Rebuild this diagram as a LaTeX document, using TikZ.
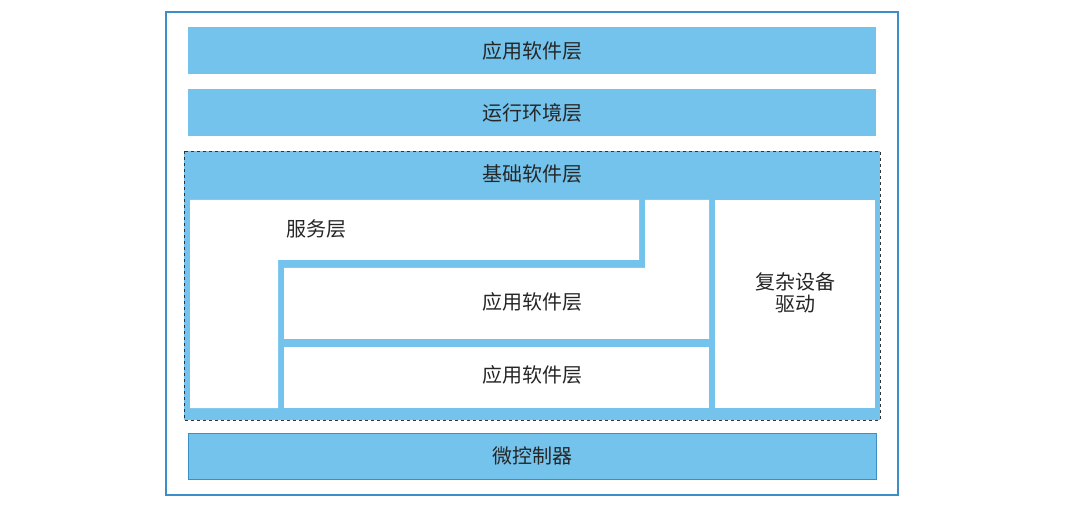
\documentclass[tikz,border=0pt]{standalone}
\usepackage{fontspec}
\newfontfamily\cjk{Noto Sans CJK SC}
\definecolor{lb}{HTML}{74C3EC}
\definecolor{fr}{HTML}{3C8FC6}
\begin{document}
\begin{tikzpicture}[x=1pt,y=-1pt,
  bar/.style={fill=lb,draw=none},
  wh/.style={fill=white,draw=none},
  lbl/.style={font=\cjk\fontsize{20}{24}\selectfont,text=black!85,align=center}]
\useasboundingbox (0,0) rectangle (1080,505);
\draw[fr,line width=1.2] (166,12) rectangle (898,495);
\fill[bar] (188,27) rectangle (876,74);
\fill[bar] (188,89) rectangle (876,136);
\fill[bar] (184,151) rectangle (880,420);
\draw[black!80,dashed,line width=0.9] (184,151) rectangle (880,420);
\fill[wh] (190,200) -- (639,200) -- (639,260) -- (278,260) -- (278,408) -- (190,408) -- cycle;
\fill[wh] (284,268) -- (645,268) -- (645,200) -- (709,200) -- (709,339) -- (284,339) -- cycle;
\fill[wh] (284,347) rectangle (709,408);
\fill[wh] (715,200) rectangle (875,408);
\filldraw[fill=lb,draw=fr,line width=0.9] (188,433) rectangle (876,479);
\node[lbl] (app) at (532,51) {应用软件层};
\node[lbl] (rt) at (532,113) {运行环境层};
\node[lbl] (base) at (532,174) {基础软件层};
\node[lbl] (svc) at (316,229) {服务层};
\node[lbl] (app1) at (532,302) {应用软件层};
\node[lbl] (app2) at (532,375) {应用软件层};
\node[lbl] (drv) at (795,293) {复杂设备\\[-2pt]驱动};
\node[lbl] (mcu) at (532,456) {微控制器};
\end{tikzpicture}
\end{document}
